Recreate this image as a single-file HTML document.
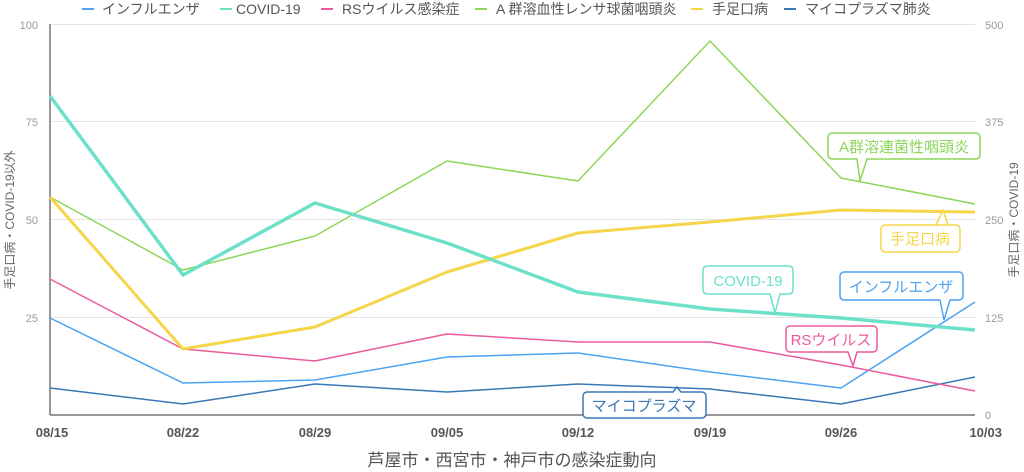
<!DOCTYPE html>
<html><head><meta charset="utf-8"><style>
html,body{margin:0;padding:0;background:#fff;}
svg{display:block;font-family:"Liberation Sans","Noto Sans CJK JP",sans-serif;}
</style></head><body>
<svg width="1024" height="472" viewBox="0 0 1024 472" xmlns="http://www.w3.org/2000/svg">
<!-- legend -->
<g font-size="14" fill="#555">
<line x1="82" y1="9" x2="94" y2="9" stroke="#4da3f0" stroke-width="2"/><text x="102" y="14">インフルエンザ</text>
<line x1="220" y1="9" x2="232" y2="9" stroke="#6ce0c9" stroke-width="2"/><text x="236" y="14">COVID-19</text>
<line x1="321" y1="9" x2="333" y2="9" stroke="#ec5a9a" stroke-width="2"/><text x="342" y="14">RSウイルス感染症</text>
<line x1="475" y1="9" x2="487" y2="9" stroke="#8dd65a" stroke-width="2"/><text x="496" y="14">A 群溶血性レンサ球菌咽頭炎</text>
<line x1="691" y1="9" x2="703" y2="9" stroke="#f5d54a" stroke-width="2"/><text x="712" y="14">手足口病</text>
<line x1="784" y1="9" x2="796" y2="9" stroke="#3a78b5" stroke-width="2"/><text x="805" y="14">マイコプラズマ肺炎</text>
</g>
<!-- grid -->
<g stroke="#e4e4e4" stroke-width="1">
<line x1="50" y1="24.5" x2="975" y2="24.5"/>
<line x1="50" y1="121.5" x2="975" y2="121.5"/>
<line x1="50" y1="219.5" x2="975" y2="219.5"/>
<line x1="50" y1="317.5" x2="975" y2="317.5"/>
</g>
<line x1="50" y1="24" x2="50" y2="415" stroke="#777" stroke-width="1.5"/>
<line x1="50" y1="415" x2="975" y2="415" stroke="#777" stroke-width="1.5"/>
<!-- left ticks -->
<g font-size="11" fill="#999" text-anchor="end">
<text x="38" y="29">100</text><text x="38" y="126">75</text><text x="38" y="224">50</text><text x="38" y="322">25</text>
</g>
<g font-size="11" fill="#999" text-anchor="start">
<text x="985" y="29">500</text><text x="985" y="126">375</text><text x="985" y="224">250</text><text x="985" y="322">125</text><text x="985" y="419">0</text>
</g>
<text transform="translate(14,220) rotate(-90)" font-size="12" fill="#666" text-anchor="middle">手足口病・COVID-19以外</text>
<text transform="translate(1018,220) rotate(-90)" font-size="12" fill="#666" text-anchor="middle">手足口病・COVID-19</text>
<!-- x labels -->
<g font-size="13" font-weight="bold" fill="#555" text-anchor="middle">
<text x="52" y="437">08/15</text><text x="183" y="437">08/22</text><text x="315" y="437">08/29</text><text x="447" y="437">09/05</text><text x="578" y="437">09/12</text><text x="710" y="437">09/19</text><text x="841" y="437">09/26</text><text x="1002" y="437" text-anchor="end">10/03</text>
</g>
<text x="512" y="466" font-size="17" fill="#555" text-anchor="middle">芦屋市・西宮市・神戸市の感染症動向</text>
<!-- series -->
<g fill="none" stroke-linejoin="round">
<polyline stroke="#3a78b5" stroke-width="1.5" points="50,388 183,404 315,384 447,392 578,384 710,389 841,404 975,377"/>
<polyline stroke="#4da3f0" stroke-width="1.5" points="50,318 183,383 315,380 447,357 578,353 710,372 841,388 975,302"/>
<polyline stroke="#ec5a9a" stroke-width="1.5" points="50,279 183,349 315,361 447,334 578,342 710,342 841,365 975,391"/>
<polyline stroke="#8dd65a" stroke-width="1.5" points="50,197 183,270 315,236 447,161 578,181 710,41 841,178 975,204"/>
<polyline stroke="#f5d54a" stroke-width="3" points="50,197 183,349 315,327 447,272 578,233 710,222 841,210 975,212"/>
<polyline stroke="#6ce0c9" stroke-width="3.5" points="50,96 183,275 315,203 447,243 578,292 710,309 841,318 975,330"/>
</g>
<!-- callouts -->
<g font-size="15" stroke-width="1.5">
<path d="M832,133 H976 a4,4 0 0 1 4,4 V155 a4,4 0 0 1 -4,4 H867 L860,181 L857,159 H832 a4,4 0 0 1 -4,-4 V137 a4,4 0 0 1 4,-4Z" fill="#fff" stroke="#8dd65a"/>
<text x="904" y="152" fill="#8dd65a" stroke="none" text-anchor="middle">A群溶連菌性咽頭炎</text>
<path d="M885,225 H956 a4,4 0 0 1 4,4 V248 a4,4 0 0 1 -4,4 H885 a4,4 0 0 1 -4,-4 V229 a4,4 0 0 1 4,-4Z M936,225 L943,210 L948,225" fill="#fff" stroke="#f5d54a"/>
<text x="920" y="244" fill="#f5d54a" stroke="none" text-anchor="middle">手足口病</text>
<path d="M707,266 H789 a4,4 0 0 1 4,4 V290 a4,4 0 0 1 -4,4 H780 L775,313 L770,294 H707 a4,4 0 0 1 -4,-4 V270 a4,4 0 0 1 4,-4Z" fill="#fff" stroke="#6ce0c9"/>
<text x="748" y="286" fill="#6ce0c9" stroke="none" text-anchor="middle">COVID-19</text>
<path d="M844,272 H959 a4,4 0 0 1 4,4 V296 a4,4 0 0 1 -4,4 H950 L944,320 L940,300 H844 a4,4 0 0 1 -4,-4 V276 a4,4 0 0 1 4,-4Z" fill="#fff" stroke="#4da3f0"/>
<text x="901" y="292" fill="#4da3f0" stroke="none" text-anchor="middle">インフルエンザ</text>
<path d="M790,326 H873 a4,4 0 0 1 4,4 V348 a4,4 0 0 1 -4,4 H857 L853,366 L848,352 H790 a4,4 0 0 1 -4,-4 V330 a4,4 0 0 1 4,-4Z" fill="#fff" stroke="#ec5a9a"/>
<text x="831" y="345" fill="#ec5a9a" stroke="none" text-anchor="middle">RSウイルス</text>
<path d="M587,392 H673 L677,387 L681,392 H702 a4,4 0 0 1 4,4 V414 a4,4 0 0 1 -4,4 H587 a4,4 0 0 1 -4,-4 V396 a4,4 0 0 1 4,-4Z" fill="#fff" stroke="#3a78b5"/>
<text x="644" y="411" fill="#3a78b5" stroke="none" text-anchor="middle">マイコプラズマ</text>
</g>
</svg>
</body></html>
